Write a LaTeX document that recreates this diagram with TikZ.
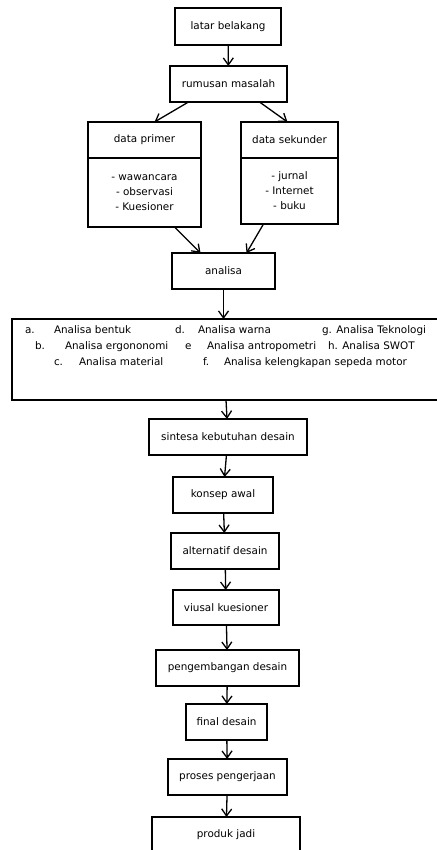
\documentclass[tikz,border=0pt]{standalone}
\usepackage{fontspec}
\setmainfont{DejaVu Sans}
\usetikzlibrary{arrows.meta}

\begin{document}
\begin{tikzpicture}[x=1pt,y=-1pt,
	box/.style={draw,line width=1.8pt,inner sep=0,outer sep=0,align=center,font=\fontsize{10.4}{15}\selectfont},
	item/.style={anchor=base west,inner sep=0,outer sep=0,font=\fontsize{10.4}{15}\selectfont},
	arr/.style={line width=1.3pt,-{Straight Barb[length=7pt,width=10pt,line width=1.3pt]}}]
	\useasboundingbox (0,0) rectangle (436,850);
	% alur atas
	\node[box,minimum width=106pt,minimum height=37pt] (latar) at (228,26.5) {latar belakang};
	\node[box,minimum width=117pt,minimum height=36pt] (rumusan) at (228.5,84) {rumusan masalah};
	\node[box,minimum width=113pt,minimum height=36pt] (primer) at (144.5,140) {data primer};
	\node[box,minimum width=113pt,minimum height=69pt] (primerisi) at (144.5,192.5) {- wawancara\\- observasi\\- Kuesioner};
	\node[box,minimum width=97pt,minimum height=36pt] (sekunder) at (289.5,140) {data sekunder};
	\node[box,minimum width=97pt,minimum height=66pt] (sekunderisi) at (289.5,191) {- jurnal\\- Internet\\- buku};
	\node[box,minimum width=103pt,minimum height=36pt] (analisa) at (223.5,271) {analisa};
	% kotak analisa
	\node[box,minimum width=428pt,minimum height=81pt] (daftar) at (226,359.5) {};
	\node[item] (a) at (25,333) {a.};
	\node[item] (ia) at (54,333) {Analisa bentuk};
	\node[item] (d) at (175,333) {d.};
	\node[item] (id) at (198,333) {Analisa warna};
	\node[item] (ig) at (322,333) {g. Analisa Teknologi};
	\node[item] (b) at (35,349) {b.};
	\node[item] (ib) at (65,349) {Analisa ergononomi};
	\node[item] (e) at (185,349) {e};
	\node[item] (ie) at (207,349) {Analisa antropometri};
	\node[item] (ih) at (328,349) {h. Analisa SWOT};
	\node[item] (c) at (54,365) {c.};
	\node[item] (ic) at (79,365) {Analisa material};
	\node[item] (f) at (203,365) {f.};
	\node[item] (if) at (224,365) {Analisa kelengkapan sepeda motor};
	% alur bawah
	\node[box,minimum width=158pt,minimum height=36pt] (sintesa) at (228,437) {sintesa kebutuhan desain};
	\node[box,minimum width=100pt,minimum height=36pt] (konsep) at (223,495) {konsep awal};
	\node[box,minimum width=108pt,minimum height=36pt] (alternatif) at (225,551) {alternatif desain};
	\node[box,minimum width=106pt,minimum height=35pt] (visual) at (226,607.5) {viusal kuesioner};
	\node[box,minimum width=143pt,minimum height=36pt] (pengembangan) at (227.5,668) {pengembangan desain};
	\node[box,minimum width=81pt,minimum height=36pt] (final) at (226.5,722) {final desain};
	\node[box,minimum width=119pt,minimum height=36pt] (proses) at (227.5,777) {proses pengerjaan};
	\node[box,minimum width=148pt,minimum height=36pt] (produk) at (226,835) {produk jadi};
	% panah
	\draw[arr] (latar) -- (rumusan);
	\draw[arr] ([xshift=-40pt]rumusan.south) -- ([xshift=10pt]primer.north);
	\draw[arr] ([xshift=31pt]rumusan.south) -- ([xshift=-2pt]sekunder.north);
	\draw[arr] ([xshift=30pt]primerisi.south) -- ([xshift=-23pt]analisa.north);
	\draw[arr] ([xshift=-26pt]sekunderisi.south) -- ([xshift=23pt]analisa.north);
	\draw[arr] (analisa) -- (analisa |- daftar.north);
	\draw[arr] (daftar.south) -- (sintesa);
	\draw[arr] (sintesa) -- (konsep);
	\draw[arr] (konsep) -- (alternatif);
	\draw[arr] (alternatif) -- (visual);
	\draw[arr] (visual) -- (pengembangan);
	\draw[arr] (pengembangan) -- (final);
	\draw[arr] (final) -- (proses);
	\draw[arr] (proses) -- (produk);
\end{tikzpicture}
\end{document}
